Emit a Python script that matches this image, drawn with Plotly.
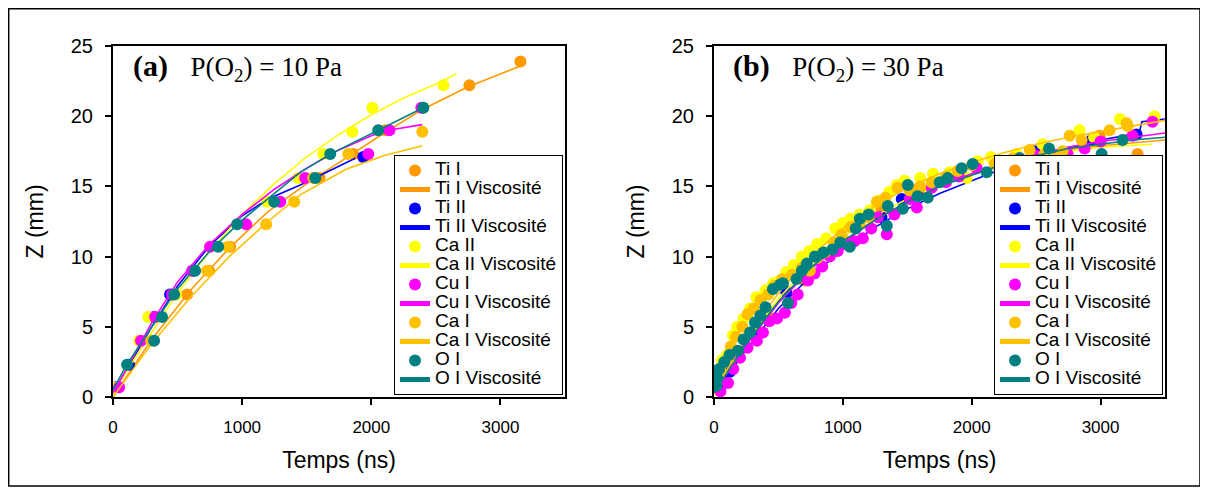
import plotly.graph_objects as go

# the page body has an 8px margin, so the figure is 1200x485 and sits at (8, 8)
OFF = 8
W, H = 1200, 485

species = ["Ti I", "Ti II", "Ca II", "Cu I", "Ca I", "O I"]
colors = ["#FF9900", "#0000FF", "#FFFF00", "#FF00FF", "#FFC000", "#008080"]

# ---------------- Panel (a) : P(O2) = 10 Pa ----------------
a_TiI_t = [574, 744, 907, 1600, 1860, 2109, 2403, 2760, 3155]
a_TiI_z = [7.3, 9.0, 10.7, 15.6, 17.3, 19.0, 20.6, 22.2, 23.9]
a_TiII_t = [16, 124, 318, 442, 620, 1938]
a_TiII_z = [0.7, 2.3, 5.7, 7.3, 9.0, 17.1]
a_CaII_t = [0, 202, 272, 488, 752, 1194, 1434, 1628, 1853, 2008, 2558]
a_CaII_z = [0.7, 4.0, 5.7, 7.3, 10.7, 13.9, 15.6, 17.3, 18.9, 20.6, 22.2]
a_CuI_t = [47, 217, 326, 457, 612, 752, 1031, 1295, 1488, 1977, 2140, 2388]
a_CuI_z = [0.7, 4.0, 5.7, 7.3, 9.0, 10.7, 12.3, 13.9, 15.6, 17.3, 19.0, 20.6]
a_CaI_t = [295, 729, 891, 1186, 1403, 1550, 1822, 2395]
a_CaI_z = [4.0, 9.0, 10.7, 12.3, 13.9, 15.6, 17.3, 18.9]
a_OI_t = [109, 318, 380, 473, 636, 814, 961, 1248, 1566, 1682, 2054, 2403]
a_OI_z = [2.3, 4.0, 5.7, 7.3, 9.0, 10.7, 12.3, 13.9, 15.6, 17.3, 19.0, 20.6]

# viscosity (drag) model curves, panel (a)
a_TiI_fit_t = [0, 300, 600, 900, 1200, 1500, 1800, 2100, 2400, 2750, 3160]
a_TiI_fit_z = [0.0, 4.1, 7.6, 10.6, 13.2, 15.2, 17.0, 18.8, 20.5, 22.1, 23.6]
a_TiII_fit_t = [0, 150, 300, 500, 750, 1000, 1200, 1450, 1876]
a_TiII_fit_z = [0.3, 2.6, 5.0, 7.9, 10.8, 12.9, 14.1, 15.1, 17.0]
a_CaII_fit_t = [0, 250, 500, 750, 1000, 1250, 1500, 1750, 2000, 2250, 2500, 2660]
a_CaII_fit_z = [0.3, 3.9, 7.4, 10.4, 13.0, 15.2, 17.1, 18.7, 20.1, 21.3, 22.3, 23.0]
a_CuI_fit_t = [0, 100, 300, 500, 750, 1000, 1250, 1500, 1750, 2000, 2130, 2395]
a_CuI_fit_z = [0.3, 1.9, 5.3, 8.2, 10.9, 13.0, 14.8, 16.3, 17.6, 18.6, 19.0, 19.4]
a_CaI_fit_t = [0, 300, 600, 900, 1200, 1450, 1800, 2100, 2395]
a_CaI_fit_z = [0.0, 3.8, 7.1, 10.0, 12.5, 14.4, 16.2, 17.2, 17.9]
a_OI_fit_t = [0, 100, 300, 500, 750, 1000, 1250, 1450, 1682, 2054, 2403]
a_OI_fit_z = [0.5, 2.2, 5.0, 7.7, 10.4, 12.6, 14.5, 16.0, 17.3, 19.0, 20.6]

# ---------------- Panel (b) : P(O2) = 30 Pa ----------------
b_TiI_t = [30, 150, 450, 700, 1000, 1300, 1600, 2194, 2643, 2992, 3287]
b_TiI_z = [0.6, 2.8, 5.6, 8.3, 11.2, 13.4, 14.8, 16.6, 17.0, 18.6, 17.3]
b_TiII_t = [47, 124, 300, 560, 900, 1300, 1457, 1900, 2488, 2930, 3279]
b_TiII_z = [0.5, 1.8, 4.5, 7.5, 10.2, 12.8, 14.1, 15.8, 17.5, 18.3, 18.7]
b_CaII_t = [20, 40, 62, 100, 147, 180, 230, 280, 330, 400,
            460, 512, 560, 620, 682, 740, 800, 870, 940, 1000,
            1060, 1130, 1209, 1280, 1360, 1419, 1480, 1600, 1700, 1829,
            1961, 2047, 2150, 2350, 2550, 2837, 2950, 3150, 3419]
b_CaII_z = [0.5, 1.5, 2.6, 3.0, 4.4, 5.0, 5.6, 6.3, 7.1, 7.6,
            8.1, 8.3, 8.9, 9.4, 10.0, 10.4, 10.9, 11.3, 12.0, 12.4,
            12.7, 13.0, 13.3, 14.0, 14.6, 15.1, 15.4, 15.6, 15.9, 16.0,
            15.6, 16.8, 17.1, 17.3, 18.0, 19.0, 18.5, 19.8, 20.0]
b_CuI_t = [50, 109, 150, 202, 260, 333, 380, 430, 490, 550,
           600, 650, 729, 780, 840, 899, 960, 1020, 1090, 1155,
           1220, 1271, 1341, 1400, 1519, 1574, 1581, 1690, 1800, 1900,
           2039, 2200, 2372, 2500, 2667, 2744, 2876, 3000, 3248, 3403]
b_CuI_z = [0.4, 1.0, 2.0, 2.8, 3.5, 4.0, 4.6, 5.4, 5.6, 6.0,
           6.7, 7.3, 8.3, 8.8, 9.3, 10.0, 10.4, 10.9, 11.1, 11.3,
           12.0, 12.8, 11.6, 13.0, 14.1, 13.5, 14.7, 14.9, 15.3, 15.7,
           16.3, 16.5, 17.0, 17.2, 17.0, 17.3, 17.7, 18.2, 18.6, 19.6]
b_CaI_t = [15, 50, 90, 130, 170, 220, 260, 310, 360, 420,
           470, 530, 605, 680, 744, 800, 860, 930, 990, 1060,
           1130, 1200, 1264, 1330, 1426, 1520, 1600, 1690, 1800, 1891,
           2000, 2178, 2318, 2450, 2566, 2659, 2705, 2760, 2853, 3070,
           3202, 3210]
b_CaI_z = [1.0, 2.0, 2.5, 3.6, 4.3, 5.0, 5.9, 6.3, 6.9, 7.3,
           7.9, 8.4, 8.7, 9.2, 9.0, 9.9, 10.3, 11.0, 11.6, 12.1,
           12.3, 12.8, 13.9, 14.2, 14.9, 14.7, 15.0, 15.3, 15.7, 16.1,
           16.5, 16.6, 17.0, 17.6, 17.3, 17.0, 17.5, 18.6, 18.3, 19.0,
           19.5, 19.3]
b_OI_t = [20, 23, 40, 80, 120, 186, 230, 280, 318, 360,
          400, 457, 512, 535, 574, 640, 682, 720, 783, 850,
          920, 980, 1054, 1100, 1132, 1200, 1341, 1349, 1465, 1504,
          1580, 1659, 1752, 1814, 1922, 2008, 2116, 2250, 2372, 2600,
          3008, 3170]
b_OI_z = [0.8, 1.4, 2.0, 2.5, 3.0, 3.3, 4.1, 4.6, 5.3, 5.8,
          6.4, 7.7, 8.0, 8.1, 6.7, 8.4, 9.0, 9.5, 10.0, 10.3,
          10.5, 11.0, 10.7, 12.0, 12.7, 13.0, 12.2, 13.6, 13.4, 15.1,
          14.3, 14.2, 15.3, 15.6, 16.3, 16.6, 16.0, 16.7, 17.0, 17.7,
          17.3, 18.3]

b_fit_t = [0, 250, 500, 750, 1000, 1250, 1500, 1750, 2000, 2250, 2500, 2750, 3000, 3250, 3500]
b_TiI_fit_z = [0.3, 3.8, 6.8, 9.2, 11.1, 12.6, 13.9, 15.0, 15.9, 16.6, 17.2, 17.6, 17.9, 18.1, 18.3]
b_TiII_fit_t = [0, 250, 500, 750, 1000, 1250, 1500, 1750, 2000, 2250, 2500, 2750, 3000, 3300, 3320, 3500]
b_TiII_fit_z = [0.2, 3.4, 6.3, 8.6, 10.5, 12.1, 13.4, 14.5, 15.4, 16.3, 17.1, 17.7, 18.3, 18.8, 19.6, 19.8]
b_CaII_fit_t = [0, 250, 500, 750, 1000, 1250, 1500, 1750, 2000, 2250, 2500, 2750, 3000, 3400]
b_CaII_fit_z = [0.3, 3.9, 7.0, 9.5, 11.4, 12.9, 14.1, 15.1, 15.9, 16.6, 17.1, 17.5, 17.8, 18.0]
b_CuI_fit_z = [0.3, 3.7, 6.7, 9.1, 11.0, 12.6, 13.9, 15.0, 15.9, 16.7, 17.3, 17.8, 18.2, 18.5, 18.8]
b_CaI_fit_z = [0.4, 4.2, 7.4, 10.0, 12.0, 13.6, 14.9, 15.9, 16.7, 17.4, 18.0, 18.5, 18.9, 19.3, 19.7]
b_OI_fit_z = [0.3, 3.8, 6.8, 9.2, 11.1, 12.6, 13.9, 15.0, 15.8, 16.6, 17.2, 17.7, 18.0, 18.3, 18.5]

x_ticks = [0, 1000, 2000, 3000]

panel_a = [
    (a_TiI_t, a_TiI_z, a_TiI_fit_t, a_TiI_fit_z),
    (a_TiII_t, a_TiII_z, a_TiII_fit_t, a_TiII_fit_z),
    (a_CaII_t, a_CaII_z, a_CaII_fit_t, a_CaII_fit_z),
    (a_CuI_t, a_CuI_z, a_CuI_fit_t, a_CuI_fit_z),
    (a_CaI_t, a_CaI_z, a_CaI_fit_t, a_CaI_fit_z),
    (a_OI_t, a_OI_z, a_OI_fit_t, a_OI_fit_z),
]
panel_b = [
    (b_TiI_t, b_TiI_z, b_fit_t, b_TiI_fit_z),
    (b_TiII_t, b_TiII_z, b_TiII_fit_t, b_TiII_fit_z),
    (b_CaII_t, b_CaII_z, b_CaII_fit_t, b_CaII_fit_z),
    (b_CuI_t, b_CuI_z, b_fit_t, b_CuI_fit_z),
    (b_CaI_t, b_CaI_z, b_fit_t, b_CaI_fit_z),
    (b_OI_t, b_OI_z, b_fit_t, b_OI_fit_z),
]

LEG_SPAN = '<span style="font-size:19px">{}</span>'

fig = go.Figure()
for panel, (xa, ya, leg) in zip([panel_a, panel_b], [("x", "y", "legend"), ("x2", "y2", "legend2")]):
    for name, col, (pt, pz, ft, fz) in zip(species, colors, panel):
        fig.add_trace(go.Scatter(
            x=pt, y=pz, mode="markers", name=LEG_SPAN.format(name),
            marker=dict(color=col, size=12, line=dict(width=0)),
            xaxis=xa, yaxis=ya, legend=leg))
        fig.add_trace(go.Scatter(
            x=ft, y=fz, mode="lines", name=LEG_SPAN.format(name + " Viscosité"),
            line=dict(color=col, width=1.6),
            xaxis=xa, yaxis=ya, legend=leg))

def px_x(p):
    # reference page pixel -> paper fraction
    return (p - OFF) / W

def px_y(p):
    return (H - (p - OFF)) / H

xdom1 = [px_x(113), px_x(565)]
xdom2 = [px_x(714), px_x(1165)]
ydom = [px_y(397), px_y(46)]

tickfont_x = dict(family="Liberation Sans, Arial, sans-serif", size=17, color="black")
tickfont_y = dict(family="Liberation Sans, Arial, sans-serif", size=20, color="black")
titlefont = dict(family="Liberation Sans, Arial, sans-serif", size=23, color="black")

xcommon = dict(range=[0, 3500], tickvals=x_ticks, ticks="outside", ticklen=6, tickwidth=1.5,
               tickcolor="black", showline=True, linecolor="black", linewidth=2, mirror=True,
               showgrid=False, zeroline=False, tickfont=tickfont_x, ticklabelstandoff=8,
               automargin=False,
               title=dict(text="Temps (ns)", font=titlefont, standoff=15))
ycommon = dict(range=[0, 25], dtick=5, ticks="outside", ticklen=6, tickwidth=1.5,
               tickcolor="black", showline=True, linecolor="black", linewidth=2, mirror=True,
               showgrid=False, zeroline=False, tickfont=tickfont_y, ticklabelstandoff=8,
               automargin=False,
               title=dict(text="Z (mm)", font=titlefont, standoff=21))

legcommon = dict(font=dict(family="Liberation Sans, Arial, sans-serif", size=12, color="black"),
                 bgcolor="white", bordercolor="black", borderwidth=1, tracegroupgap=0,
                 xanchor="right", yanchor="bottom", itemsizing="constant")

fig.update_layout(
    width=W, height=H,
    margin=dict(l=0, r=0, t=0, b=0, autoexpand=False),
    paper_bgcolor="white", plot_bgcolor="white",
    xaxis=dict(domain=xdom1, anchor="y", **xcommon),
    yaxis=dict(domain=ydom, anchor="x", **ycommon),
    xaxis2=dict(domain=xdom2, anchor="y2", **xcommon),
    yaxis2=dict(domain=ydom, anchor="x2", **ycommon),
    legend=dict(x=px_x(563), y=px_y(395), **legcommon),
    legend2=dict(x=px_x(1163), y=px_y(395), **legcommon),
    showlegend=True,
    annotations=[
        dict(text='<b>(a)</b>\u00a0\u00a0\u00a0<span style="font-size:27px">P(O<sub>2</sub>) = 10 Pa</span>',
             x=px_x(131), y=px_y(67), xref="paper", yref="paper", xanchor="left", yanchor="middle",
             showarrow=False, font=dict(family="Liberation Serif, Times New Roman, serif", size=30, color="black")),
        dict(text='<b>(b)</b>\u00a0\u00a0\u00a0<span style="font-size:27px">P(O<sub>2</sub>) = 30 Pa</span>',
             x=px_x(731), y=px_y(67), xref="paper", yref="paper", xanchor="left", yanchor="middle",
             showarrow=False, font=dict(family="Liberation Serif, Times New Roman, serif", size=30, color="black")),
    ],
    shapes=[
        dict(type="rect", xref="paper", yref="paper", x0=0.7 / W, x1=px_x(1200), y0=px_y(486), y1=1 - 0.7 / H,
             line=dict(color="black", width=1.5), fillcolor="rgba(0,0,0,0)", layer="below"),
    ],
)

fig.write_html("out.html")
